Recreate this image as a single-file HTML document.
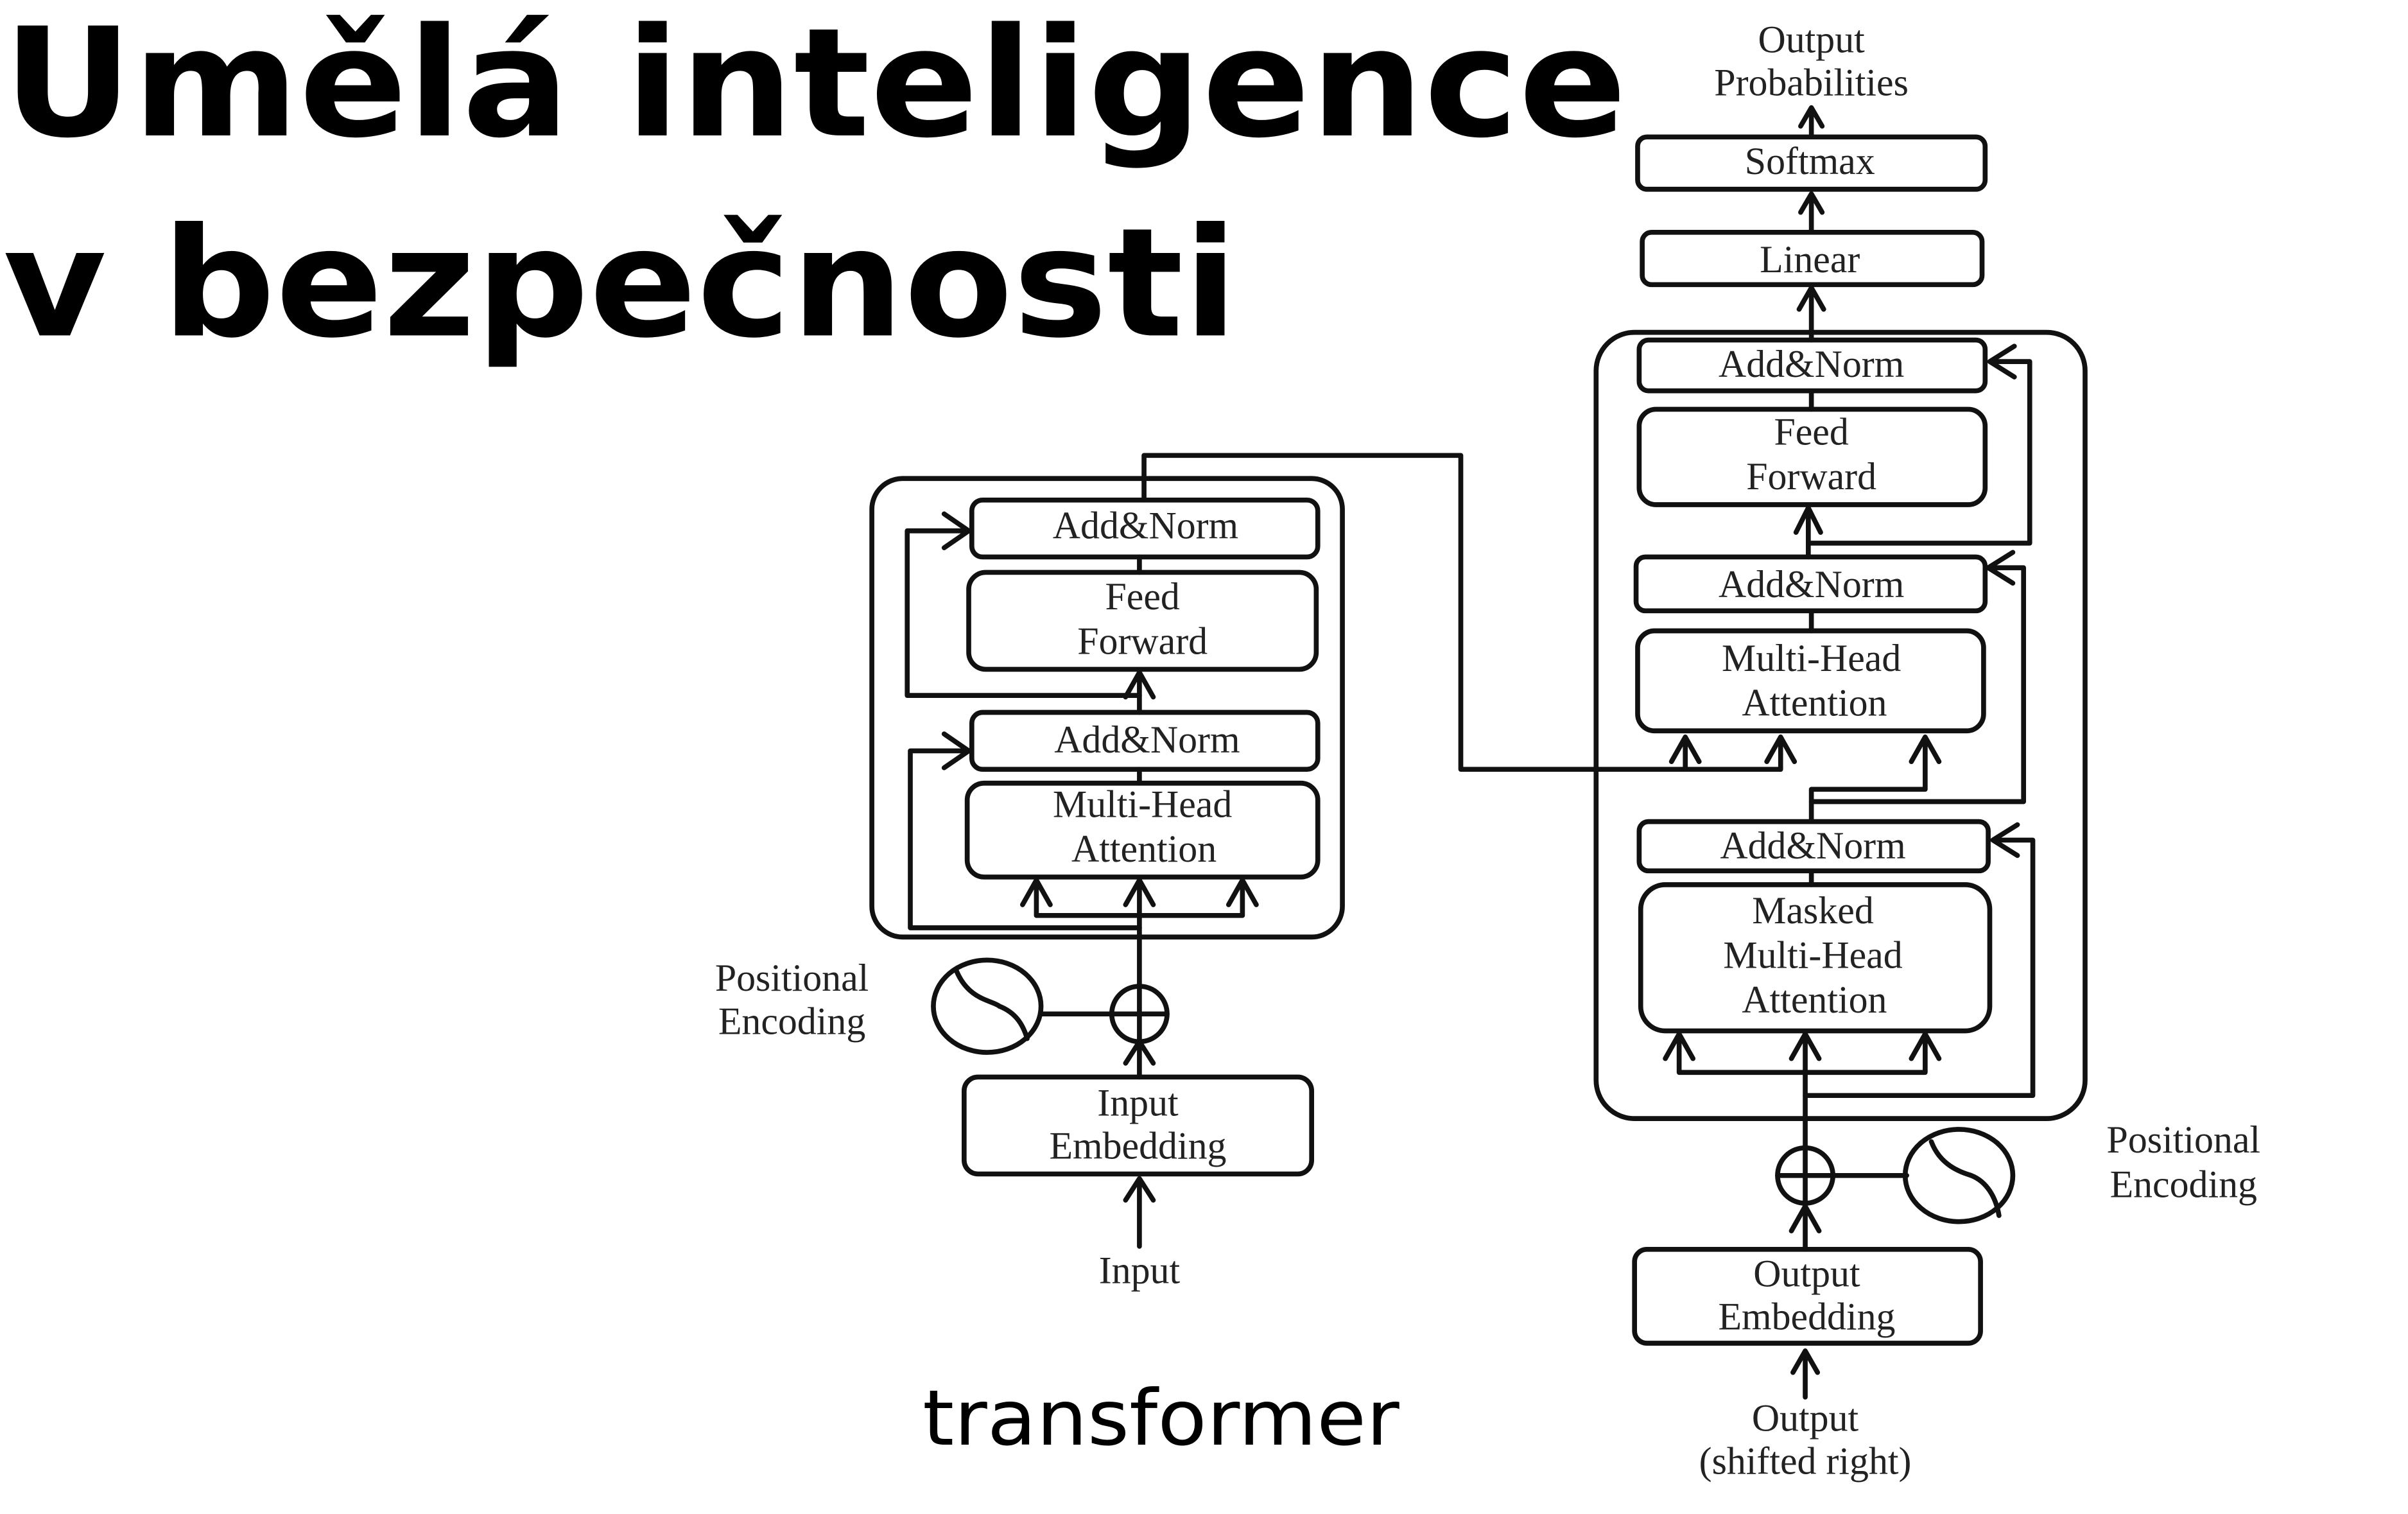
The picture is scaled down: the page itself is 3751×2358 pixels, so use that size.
<!DOCTYPE html>
<html><head><meta charset="utf-8"><style>
html,body{margin:0;padding:0;background:#fff;}
svg{display:block;}
</style></head><body>
<svg width="3751" height="2358" viewBox="0 0 1566 984" preserveAspectRatio="none" xmlns="http://www.w3.org/2000/svg">
<g font-family="'DejaVu Sans','Liberation Sans',sans-serif" font-weight="bold" fill="#000">
<text x="2" y="88" font-size="98" textLength="1056" lengthAdjust="spacingAndGlyphs">Umělá inteligence</text>
<text x="2" y="218" font-size="98" textLength="803" lengthAdjust="spacingAndGlyphs">v bezpečnosti</text>
</g>
<text x="755" y="939" font-family="'DejaVu Sans','Liberation Sans',sans-serif" font-size="50" text-anchor="middle" textLength="310" lengthAdjust="spacingAndGlyphs">transformer</text>

<g fill="none" stroke="#111" stroke-width="3.2" stroke-linejoin="round" stroke-linecap="round">
<rect x="567" y="311" width="306" height="298" rx="20"/>
<rect x="632" y="325" width="225" height="37" rx="7"/>
<rect x="630" y="372" width="226" height="63" rx="11"/>
<rect x="632" y="463" width="225" height="37" rx="7"/>
<rect x="629" y="509" width="228" height="61" rx="11"/>
<rect x="627" y="700" width="226" height="63" rx="9"/>
<path d="M741 810 V766 M732 780 L741 766 L750 780"/>
<path d="M741 700 V677 M732 691 L741 677 L750 691"/>
<circle cx="741" cy="659" r="18"/>
<path d="M723 659 H759 M741 641 V677"/>
<ellipse cx="642" cy="654" rx="35" ry="30"/>
<path d="M622 631 C630 650 645 650 650 654 C660 658 665 665 668 675"/>
<path d="M677 659 H723"/>
<path d="M741 641 V572 M732 588 L741 572 L750 588"/>
<path d="M674 595 H808 M674 595 V572 M665 588 L674 572 L683 588 M808 595 V572 M799 588 L808 572 L817 588"/>
<path d="M741 603 H592 V488 H630 M614 477 L630 488 L614 499"/>
<path d="M741 500 V509 M741 463 V437 M732 453 L741 437 L750 453"/>
<path d="M741 452 H590 V345 H630 M614 334 L630 345 L614 356"/>
<path d="M741 362 V372 M744 325 V296 H950 V500 H1158"/>
<path d="M1096 500 V479 M1087 495 L1096 479 L1105 495 M1158 500 V479 M1149 495 L1158 479 L1167 495"/>

<rect x="1038" y="216" width="318" height="511" rx="25"/>
<rect x="1065" y="89" width="226" height="34" rx="6"/>
<rect x="1068" y="151" width="221" height="34" rx="6"/>
<rect x="1066" y="221" width="225" height="33" rx="6"/>
<rect x="1066" y="266" width="225" height="62" rx="11"/>
<rect x="1064" y="362" width="227" height="35" rx="6"/>
<rect x="1065" y="410" width="225" height="65" rx="11"/>
<rect x="1066" y="534" width="227" height="32" rx="6"/>
<rect x="1067" y="575" width="227" height="95" rx="16"/>
<rect x="1063" y="812" width="225" height="61" rx="8"/>
<path d="M1178 88 V70 M1171 82 L1178 70 L1185 82"/>
<path d="M1178 150 V126 M1171 138 L1178 126 L1185 138"/>
<path d="M1178 221 V187 M1170 201 L1178 187 L1186 201"/>
<path d="M1178 254 V266"/>
<path d="M1176 362 V330 M1168 346 L1176 330 L1184 346"/>
<path d="M1176 353 H1320 V235 H1294 M1310 225 L1294 235 L1310 245"/>
<path d="M1178 397 V410"/>
<path d="M1178 534 V513 H1252 V479 M1243 495 L1252 479 L1261 495"/>
<path d="M1178 521 H1316 V369 H1293 M1309 359 L1293 369 L1309 379"/>
<path d="M1178 566 V575"/>
<path d="M1174 746 V672 M1165 688 L1174 672 L1183 688"/>
<path d="M1092 697 H1252 M1092 697 V672 M1083 688 L1092 672 L1101 688 M1252 697 V672 M1243 688 L1252 672 L1261 688"/>
<path d="M1174 712 H1322 V546 H1296 M1312 536 L1296 546 L1312 556"/>
<circle cx="1174" cy="764" r="18"/>
<path d="M1156 764 H1192 M1174 746 V782"/>
<path d="M1192 764 H1240"/>
<ellipse cx="1274" cy="764" rx="35" ry="30"/>
<path d="M1256 742 C1262 758 1276 762 1282 764 C1292 768 1298 778 1300 790"/>
<path d="M1174 812 V784 M1165 800 L1174 784 L1183 800"/>
<path d="M1174 908 V878 M1166 892 L1174 878 L1182 892"/>
</g>

<g font-family="'Liberation Serif',serif" font-size="25" fill="#222" text-anchor="middle">
<text x="1178" y="34">Output</text>
<text x="1178" y="62">Probabilities</text>
<text x="1177" y="113">Softmax</text>
<text x="1177" y="177">Linear</text>
<text x="1178" y="245">Add&amp;Norm</text>
<text x="1178" y="289">Feed</text>
<text x="1178" y="318">Forward</text>
<text x="1178" y="388">Add&amp;Norm</text>
<text x="1178" y="436">Multi-Head</text>
<text x="1180" y="465">Attention</text>
<text x="1179" y="558">Add&amp;Norm</text>
<text x="1179" y="600">Masked</text>
<text x="1179" y="629">Multi-Head</text>
<text x="1180" y="658">Attention</text>
<text x="1420" y="749">Positional</text>
<text x="1420" y="778">Encoding</text>
<text x="1175" y="836">Output</text>
<text x="1175" y="864">Embedding</text>
<text x="1174" y="930">Output</text>
<text x="1174" y="958">(shifted right)</text>

<text x="745" y="350">Add&amp;Norm</text>
<text x="743" y="396">Feed</text>
<text x="743" y="425">Forward</text>
<text x="746" y="489">Add&amp;Norm</text>
<text x="743" y="531">Multi-Head</text>
<text x="744" y="560">Attention</text>
<text x="515" y="644">Positional</text>
<text x="515" y="672">Encoding</text>
<text x="740" y="725">Input</text>
<text x="740" y="753">Embedding</text>
<text x="741" y="834">Input</text>
</g>
</svg>
</body></html>
